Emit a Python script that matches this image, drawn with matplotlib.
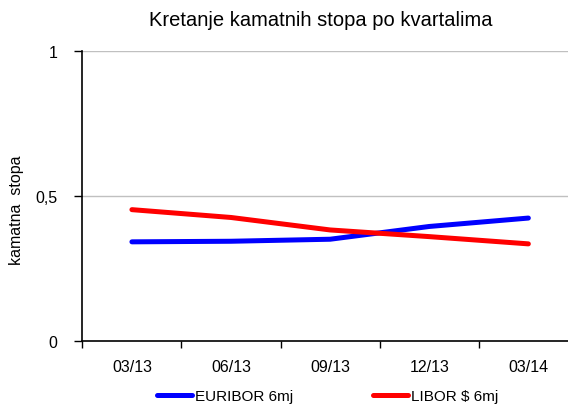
import matplotlib
matplotlib.use("Agg")
import matplotlib.pyplot as plt
from matplotlib.ticker import FuncFormatter

# quarters and rates
kvartali = ["03/13", "06/13", "09/13", "12/13", "03/14"]
euribor = [0.341, 0.343, 0.350, 0.394, 0.423]
libor = [0.452, 0.425, 0.382, 0.359, 0.334]

plt.rcParams['font.family'] = ['Liberation Sans', 'DejaVu Sans']

fig = plt.figure(figsize=(5.68, 4.14), dpi=100)
ax = fig.add_axes([0.145, 0.1746, 0.855, 0.7004])

x = range(len(kvartali))
l1, = ax.plot(x, euribor, color="#0000ff", lw=3.6, solid_capstyle="round", label="EURIBOR 6mj")
l2, = ax.plot(x, libor, color="#ff0000", lw=3.6, solid_capstyle="round", label="LIBOR $ 6mj")

ax.set_xlim(-0.5, 4.4)
ax.set_ylim(0, 1)
ax.set_yticks([0, 0.5, 1])
ax.yaxis.set_major_formatter(FuncFormatter(lambda v, p: "0" if v == 0 else ("1" if v == 1 else f"{v:g}".replace(".", ","))))
ax.set_xticks([i - 0.5 for i in range(len(kvartali))])
ax.set_xticklabels([])
ax.set_xticks(list(x), minor=True)
ax.set_xticklabels(kvartali, minor=True)
ax.tick_params(axis="x", which="minor", length=0, pad=13, labelsize=11.5)
ax.tick_params(axis="x", which="major", length=5, direction="out", width=1)
ax.tick_params(axis="y", length=6, width=1, pad=12, labelsize=11.5, direction="out")

for v in [0.5, 1]:
    ax.axhline(v, color="#c0c0c0", lw=1, zorder=0)
for s in ["top", "right"]:
    ax.spines[s].set_visible(False)
ax.spines["left"].set_linewidth(1.2)
ax.spines["bottom"].set_linewidth(1.2)

ax.set_ylabel("kamatna  stopa", fontsize=11.5)
ax.yaxis.set_label_coords(-0.12, 0.454)
fig.text(0.565, 0.95, "Kretanje kamatnih stopa po kvartalima", ha="center", va="center", fontsize=14.5)

fig.legend(handles=[l1, l2], loc="lower center", bbox_to_anchor=(0.577, -0.01), ncol=2,
           frameon=False, fontsize=11, handlelength=2.3, handletextpad=0.2, columnspacing=5.2)

fig.savefig("out.png", dpi=100)
